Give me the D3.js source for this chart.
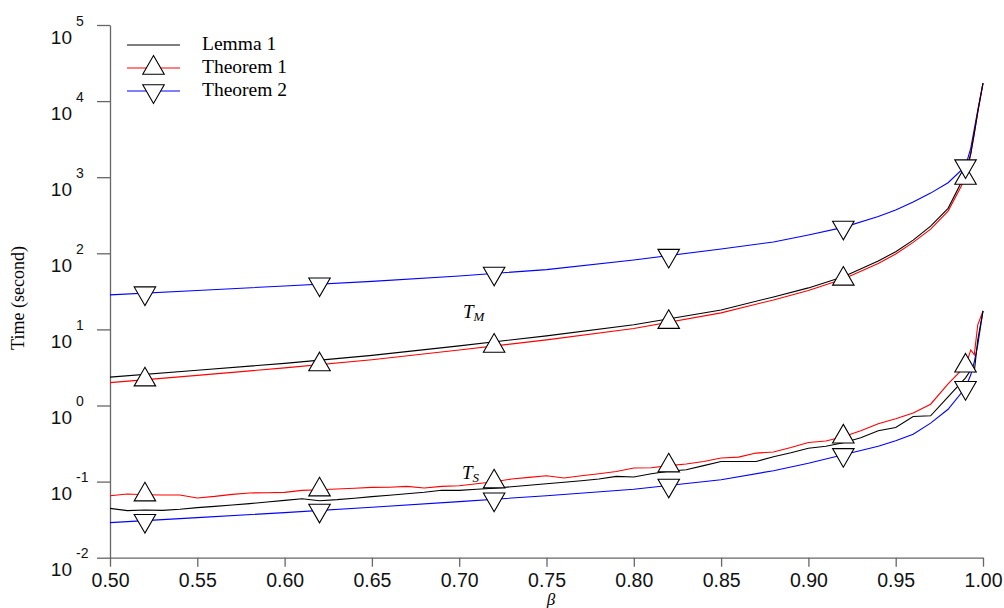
<!DOCTYPE html>
<html>
<head>
<meta charset="utf-8">
<script src="https://cdn.jsdelivr.net/npm/d3@7"></script>
<style>
body { margin: 0; background: #fff; }
</style>
</head>
<body>
<svg id="chart" width="1004" height="608"></svg>
<script>
// beta grid for the smooth curves and for the noisy T_S runs
var betaSmooth = [0.50, 0.55, 0.60, 0.65, 0.70, 0.75, 0.80, 0.85, 0.88, 0.90, 0.92, 0.94, 0.95, 0.96, 0.97, 0.98, 0.99, 0.993, 0.995, 0.997, 1.00];
var betaFine = [0.50, 0.51, 0.52, 0.53, 0.54, 0.55, 0.56, 0.57, 0.58, 0.59,
    0.60, 0.61, 0.62, 0.63, 0.64, 0.65, 0.66, 0.67, 0.68, 0.69,
    0.70, 0.71, 0.72, 0.73, 0.74, 0.75, 0.76, 0.77, 0.78, 0.79,
    0.80, 0.81, 0.82, 0.83, 0.84, 0.85, 0.86, 0.87, 0.88, 0.89,
    0.90, 0.91, 0.92, 0.93, 0.94, 0.95, 0.96, 0.97, 0.98, 0.99,
    0.993, 0.995, 0.997, 1.00];

// T_M (seconds)
var tmLemma1 = [2.36, 2.90, 3.58, 4.56, 6.07, 8.22, 11.5, 18.0, 26.7, 35.1, 49.3, 79.2, 105, 149, 228, 390, 1099, 2070, 3790, 7150, 17200];
var tmTheorem1 = [2.00, 2.49, 3.12, 4.00, 5.35, 7.28, 10.3, 16.5, 24.4, 32.5, 46.0, 73.5, 97.9, 139, 208, 359, 973, 2010, 3680, 7150, 17200];
var tmTheorem2 = [28.4, 32.5, 37.2, 42.7, 50.4, 61.0, 81.7, 114, 141, 174, 219, 304, 370, 471, 618, 845, 1400, 2410, 4280, 7600, 17200];

// T_S (seconds)
var tsLemma1 = [0.0445, 0.0415, 0.0424, 0.0419, 0.0434, 0.0455, 0.0473, 0.0493, 0.0513, 0.0540,
    0.0567, 0.0596, 0.0561, 0.0579, 0.0605, 0.0634, 0.0663, 0.0694, 0.0726, 0.0771,
    0.0766, 0.0795, 0.0819, 0.0857, 0.0897, 0.0938, 0.0982, 0.1028, 0.108, 0.117,
    0.115, 0.127, 0.137, 0.143, 0.162, 0.184, 0.184, 0.184, 0.212, 0.239,
    0.274, 0.292, 0.324, 0.377, 0.466, 0.514, 0.717, 0.733, 1.30, 2.31,
    2.94, 2.77, 7.28, 17.5];
var tsTheorem1 = [0.0653, 0.0687, 0.0673, 0.0667, 0.0667, 0.0609, 0.0639, 0.0679, 0.0709, 0.0715,
    0.0722, 0.0767, 0.0783, 0.0800, 0.0819, 0.0839, 0.0844, 0.0865, 0.0824, 0.0865,
    0.0884, 0.0938, 0.0997, 0.108, 0.1135, 0.1195, 0.1115, 0.1195, 0.127, 0.136,
    0.151, 0.152, 0.162, 0.170, 0.184, 0.204, 0.210, 0.237, 0.245, 0.281,
    0.327, 0.341, 0.388, 0.466, 0.575, 0.669, 0.795, 1.04, 1.93, 3.32,
    5.38, 4.63, 11.5, 17.5];
var tsTheorem2 = [0.0289, 0.0336, 0.0391, 0.0461, 0.0545, 0.0653, 0.0794, 0.106, 0.139, 0.174, 0.225, 0.291, 0.344, 0.419, 0.587, 0.892, 1.71, 2.53, 3.75, 6.26, 17.5];

var markerBeta = [0.52, 0.62, 0.72, 0.82, 0.92, 0.99];
var xTicks = [0.50, 0.55, 0.60, 0.65, 0.70, 0.75, 0.80, 0.85, 0.90, 0.95, 1.00];
var yTicks = [1e-2, 1e-1, 1e0, 1e1, 1e2, 1e3, 1e4, 1e5];
var legendNames = ['Lemma 1', 'Theorem 1', 'Theorem 2'];

var serif = "'Liberation Serif', 'Times New Roman', serif";
var sans = "'Liberation Sans', Arial, Helvetica, sans-serif";
var axisColor = '#666';

var svg = d3.select('#chart');

var x = d3.scaleLinear().domain([0.5, 1.0]).range([110, 983]);
var y = d3.scaleLog().domain([1e-2, 1e5]).range([557.7, 25]);

// series: order = drawing order
var series = [
    { beta: betaSmooth, values: tmTheorem2, color: 'blue', marker: 'down' },
    { beta: betaSmooth, values: tmTheorem1, color: 'red', marker: 'up' },
    { beta: betaSmooth, values: tmLemma1, color: 'black', marker: null },
    { beta: betaSmooth, values: tsTheorem2, color: 'blue', marker: 'down' },
    { beta: betaFine, values: tsTheorem1, color: 'red', marker: 'up' },
    { beta: betaFine, values: tsLemma1, color: 'black', marker: null }
];

// log-linear lookup of a series value at some beta
function valueAt(bs, vs, b) {
    var i = d3.bisectLeft(bs, b - 1e-9);
    if (Math.abs(bs[i] - b) < 1e-9) return vs[i];
    var t = (b - bs[i - 1]) / (bs[i] - bs[i - 1]);
    var l0 = Math.log10(vs[i - 1]), l1 = Math.log10(vs[i]);
    return Math.pow(10, l0 + t * (l1 - l0));
}

// axes
var xAxis = svg.append('g')
    .attr('transform', 'translate(0,' + y(1e-2) + ')')
    .call(d3.axisBottom(x).tickValues(xTicks).tickSize(9).tickSizeOuter(0).tickFormat(d3.format('.2f')));
xAxis.selectAll('text')
    .attr('y', 15)
    .style('font-family', sans)
    .style('font-size', '19.5px')
    .attr('fill', '#111');

var yAxis = svg.append('g')
    .attr('transform', 'translate(' + x(0.5) + ',0)')
    .call(d3.axisLeft(y).tickValues(yTicks).tickSize(13).tickSizeOuter(0).tickFormat(''));

[xAxis, yAxis].forEach(function (g) {
    g.select('.domain').attr('stroke', axisColor).attr('stroke-width', 1.3);
    g.selectAll('.tick line').attr('stroke', axisColor).attr('stroke-width', 1.3);
});

yAxis.selectAll('.tick').each(function (d) {
    var t = d3.select(this);
    t.append('text')
        .attr('x', -38)
        .attr('y', 18)
        .attr('text-anchor', 'end')
        .attr('fill', '#111')
        .style('font-family', sans)
        .style('font-size', '19px')
        .text('10');
    t.append('text')
        .attr('x', -34)
        .attr('y', 0)
        .attr('text-anchor', 'start')
        .attr('fill', '#111')
        .style('font-family', sans)
        .style('font-size', '14px')
        .text(Math.round(Math.log10(d)));
});

// axis titles
svg.append('text')
    .attr('transform', 'translate(24,298) rotate(-90)')
    .attr('text-anchor', 'middle')
    .style('font-family', serif)
    .style('font-size', '18px')
    .text('Time (second)');

svg.append('text')
    .attr('x', 551)
    .attr('y', 605)
    .attr('text-anchor', 'middle')
    .style('font-family', serif)
    .style('font-style', 'italic')
    .style('font-size', '17px')
    .text('β');

// lines
var line = d3.line()
    .x(function (d) { return x(d[0]); })
    .y(function (d) { return y(d[1]); });

series.forEach(function (s) {
    svg.append('path')
        .datum(d3.zip(s.beta, s.values))
        .attr('d', line)
        .attr('fill', 'none')
        .attr('stroke', s.color)
        .attr('stroke-width', 1.1);
});

var tri = d3.symbol().type(d3.symbolTriangle).size(200);

function drawMarker(g, cx, cy, kind) {
    g.append('path')
        .attr('d', tri)
        .attr('transform', 'translate(' + cx + ',' + cy + ')' + (kind == 'down' ? ' rotate(180)' : ''))
        .attr('fill', 'white')
        .attr('stroke', 'black')
        .attr('stroke-width', 1.1);
}

var markers = svg.append('g');
[1, 4, 0, 3].forEach(function (k) {
    var s = series[k];
    markerBeta.forEach(function (b) {
        drawMarker(markers, x(b), y(valueAt(s.beta, s.values, b)), s.marker);
    });
});

// curve labels
function subLabel(px, py, main, sub) {
    var t = svg.append('text')
        .attr('x', px)
        .attr('y', py)
        .style('font-family', serif)
        .style('font-style', 'italic')
        .style('font-size', '19px');
    t.append('tspan').text(main);
    t.append('tspan').attr('dy', 3).style('font-size', '13px').text(sub);
}
subLabel(463, 318, 'T', 'M');
subLabel(462, 479, 'T', 'S');

// legend
var legendColors = ['black', 'red', 'blue'];
var legendMarkers = [null, 'up', 'down'];
var legend = svg.append('g');
legendNames.forEach(function (name, i) {
    var ly = 45 + i * 23;
    legend.append('line')
        .attr('x1', 127).attr('x2', 180)
        .attr('y1', ly).attr('y2', ly)
        .attr('stroke', legendColors[i])
        .attr('stroke-width', 1.1);
    if (legendMarkers[i]) drawMarker(legend, 153.5, ly, legendMarkers[i]);
    legend.append('text')
        .attr('x', 202)
        .attr('y', ly + 4.7)
        .style('font-family', serif)
        .style('font-size', '19.5px')
        .text(name);
});
</script>
</body>
</html>
